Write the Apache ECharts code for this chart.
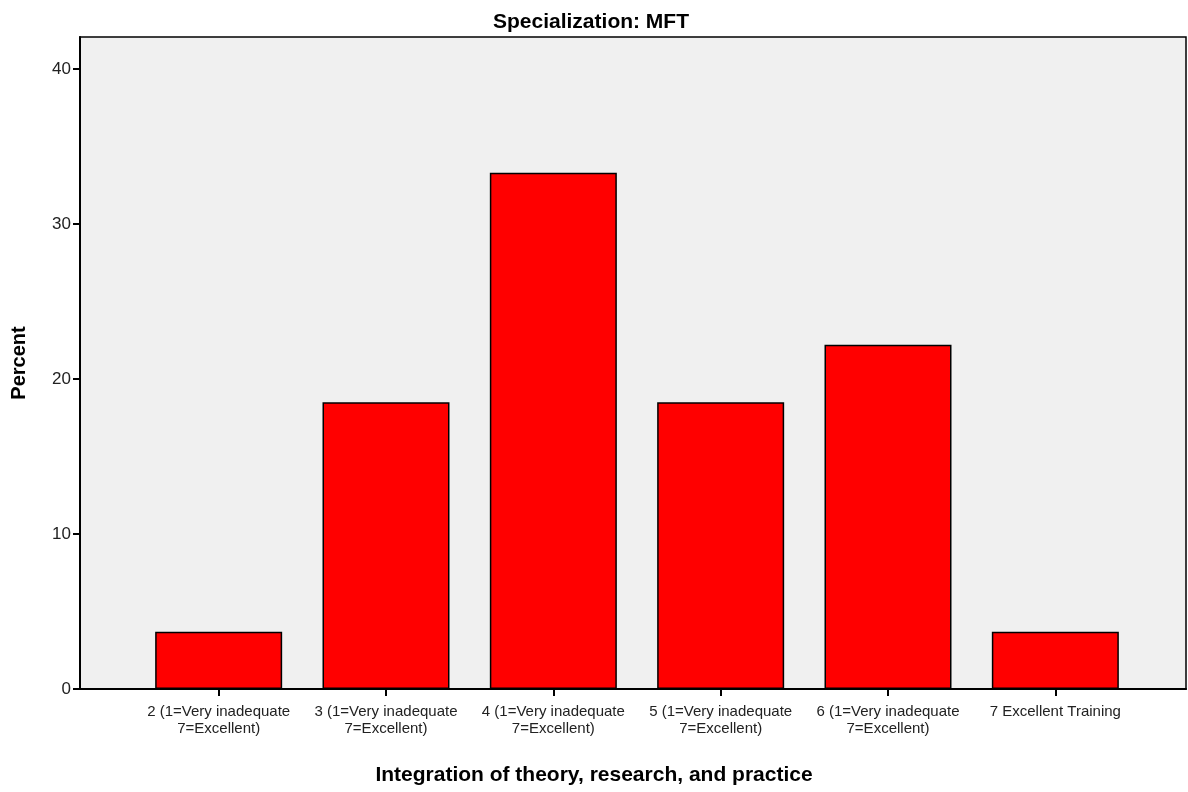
<!DOCTYPE html>
<html>
<head>
<meta charset="utf-8">
<script src="https://cdn.jsdelivr.net/npm/echarts@6/dist/echarts.min.js"></script>
<style>
  html, body { margin: 0; padding: 0; background: #fff; }
  #main { width: 1188px; height: 792px; }
</style>
</head>
<body>
<div id="main"></div>
<script>
// categories and values (percent)
const categories = [
  '2 (1=Very inadequate\n7=Excellent)',
  '3 (1=Very inadequate\n7=Excellent)',
  '4 (1=Very inadequate\n7=Excellent)',
  '5 (1=Very inadequate\n7=Excellent)',
  '6 (1=Very inadequate\n7=Excellent)',
  '7 Excellent Training'
]
const percentValues = [3.7, 18.5, 33.3, 18.5, 22.2, 3.7]
const yMin = 0
const yMax = 42.06
const yInterval = 10

const font = '"Liberation Sans", Arial, sans-serif'

const chart = echarts.init(document.getElementById('main'))
chart.setOption({
  animation: false,
  textStyle: { fontFamily: font },
  title: [
    {
      text: 'Specialization: MFT',
      left: 586,
      top: 7,
      textAlign: 'center',
      textStyle: { fontFamily: font, fontSize: 21, fontWeight: 'bold', color: '#000' }
    },
    {
      text: 'Integration of theory, research, and practice',
      left: 589,
      top: 760,
      textAlign: 'center',
      textStyle: { fontFamily: font, fontSize: 21, fontWeight: 'bold', color: '#000' }
    }
  ],
  grid: [
    // frame + y axis
    { left: 80, right: 2, top: 37, bottom: 103, show: true, backgroundColor: '#f0f0f0', borderColor: '#000', borderWidth: 1.5 },
    // bars
    { left: 135, right: 49, top: 37, bottom: 103 }
  ],
  xAxis: [
    {
      gridIndex: 0,
      type: 'value',
      min: 0,
      max: 1,
      axisLine: { show: true, onZero: false, lineStyle: { color: '#000', width: 2 } },
      axisTick: { show: false },
      axisLabel: { show: false },
      splitLine: { show: false }
    },
    {
      gridIndex: 1,
      type: 'category',
      data: categories,
      axisLine: { show: false },
      axisTick: { show: true, alignWithLabel: true, length: 7, lineStyle: { color: '#000', width: 2 } },
      axisLabel: { color: '#222', fontSize: 15, margin: 14, lineHeight: 17, interval: 0, fontFamily: font }
    }
  ],
  yAxis: [
    {
      gridIndex: 0,
      type: 'value',
      min: yMin,
      max: yMax,
      interval: yInterval,
      name: 'Percent',
      nameLocation: 'middle',
      nameGap: 51,
      nameTextStyle: { fontFamily: font, fontSize: 20, fontWeight: 'bold', color: '#000' },
      axisLine: { show: true, lineStyle: { color: '#000', width: 2 } },
      axisTick: { show: true, length: 7, lineStyle: { color: '#000', width: 2 } },
      axisLabel: { color: '#222', fontSize: 17, margin: 9, showMaxLabel: false, fontFamily: font },
      splitLine: { show: false }
    },
    {
      gridIndex: 1,
      type: 'value',
      min: yMin,
      max: yMax,
      interval: yInterval,
      show: false
    }
  ],
  series: [
    {
      name: 'Percent',
      type: 'bar',
      xAxisIndex: 1,
      yAxisIndex: 1,
      data: percentValues,
      barWidth: 127,
      itemStyle: { color: '#ff0000', borderColor: '#000', borderWidth: 1.5 }
    }
  ]
})
</script>
</body>
</html>
